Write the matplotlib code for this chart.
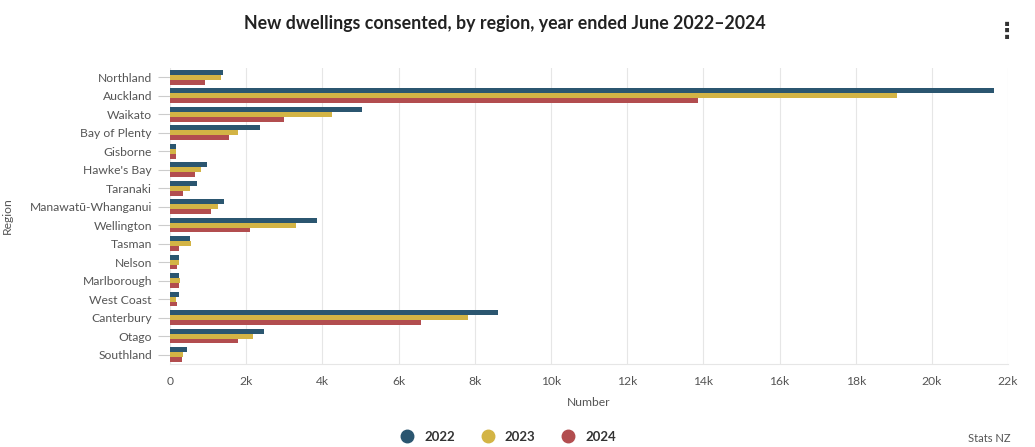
import matplotlib.pyplot as plt
import numpy as np

plt.rcParams['font.family'] = ['Lato', 'DejaVu Sans']

regions = ["Northland", "Auckland", "Waikato", "Bay of Plenty", "Gisborne",
           "Hawke's Bay", "Taranaki", "Manawatū-Whanganui", "Wellington",
           "Tasman", "Nelson", "Marlborough", "West Coast", "Canterbury",
           "Otago", "Southland"]
years = ["2022", "2023", "2024"]
v2022 = [1390, 21620, 5040, 2360, 150, 960, 700, 1420, 3870, 520, 230, 230,
         230, 8600, 2470, 440]
v2023 = [1340, 19080, 4250, 1780, 150, 810, 520, 1270, 3310, 550, 230, 250,
         150, 7820, 2180, 340]
v2024 = [920, 13860, 2990, 1540, 150, 660, 340, 1070, 2090, 230, 190, 230,
         170, 6590, 1780, 310]
colors = ["#2b5670", "#d3b445", "#b24d4f"]

fig = plt.figure(figsize=(10.35, 4.47), dpi=100)
ax = fig.add_axes([0.1643, 0.186, 0.8097, 0.662])

y = np.arange(len(regions))
h = 0.265
for i, (vals, c, lab) in enumerate(zip([v2022, v2023, v2024], colors, years)):
    ax.barh(y + (i - 1) * h, vals, height=h, color=c, label=lab, zorder=3)

ax.set_ylim(len(regions) - 0.5, -0.5)
ax.set_xlim(0, 22000)
ax.set_xticks(np.arange(0, 22001, 2000))
ax.set_xticklabels(["0"] + [f"{k}k" for k in range(2, 23, 2)])
ax.set_yticks(y)
ax.set_yticklabels(regions)
ax.grid(axis="x", color="#e6e6e6", linewidth=0.8, zorder=0)
for s in ["top", "right", "left"]:
    ax.spines[s].set_visible(False)
ax.spines["bottom"].set_color("#e6e6e6")
ax.tick_params(axis="y", length=9, color="#cccccc", labelsize=8.7,
               labelcolor="#555555", pad=4)
ax.tick_params(axis="x", length=0, labelsize=8.7, labelcolor="#555555", pad=9)
ax.set_xlabel("Number", fontsize=8.7, color="#555555", labelpad=7)
ax.set_ylabel("Region", fontsize=8.7, color="#555555", labelpad=12)

fig.text(0.488, 0.947, "New dwellings consented, by region, year ended June 2022\u20132024",
         ha="center", va="center", fontsize=12.8, fontweight="bold", color="#222222")
fig.text(0.973, 0.93, "\u22ee", ha="center", va="center", fontsize=16,
         fontweight="bold", color="#333333")

leg = fig.legend(handles=[plt.Line2D([], [], marker="o", ls="", color=c,
                                     markersize=9, label=l)
                          for c, l in zip(colors, years)],
                 loc="center", bbox_to_anchor=(0.488, 0.023), ncol=3,
                 frameon=False, fontsize=9.5, handletextpad=0.3,
                 columnspacing=1.5)
for t in leg.get_texts():
    t.set_fontweight("bold")
    t.set_color("#333333")
fig.text(0.956, 0.02, "Stats NZ", ha="center", va="center", fontsize=8,
         color="#555555")

fig.savefig("out.png", dpi=100)
